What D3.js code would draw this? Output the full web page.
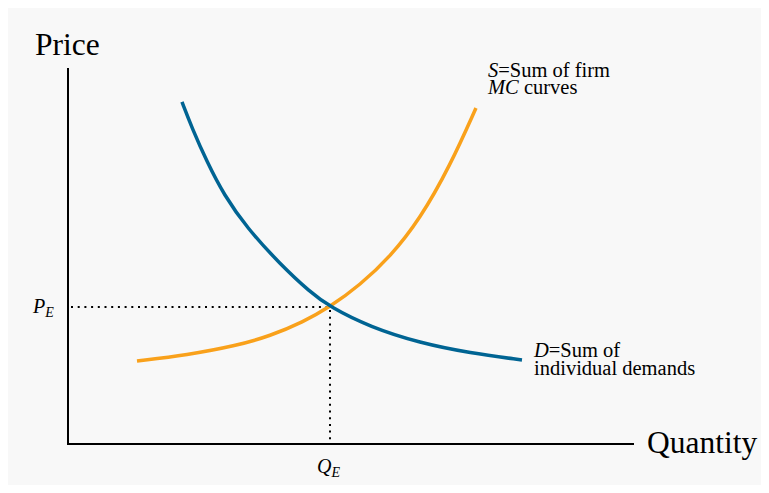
<!DOCTYPE html>
<html><head><meta charset="utf-8">
<script src="https://cdn.jsdelivr.net/npm/d3@7"></script>
<style>html,body{margin:0;padding:0;background:#fff;}svg{display:block;}</style>
</head><body>
<script>
// Data (x = quantity, y = price, arbitrary units 0-100)
const demandQ = [20.14, 21.91, 24.56, 27.56, 31.63, 37.46, 42.76, 46.29, 53.36, 62.19, 71.02, 80.21];
const demandP = [90.96, 84.04, 75.00, 66.22, 57.45, 47.87, 40.43, 36.44, 31.12, 26.86, 24.20, 22.34];
const supplyQ = [12.19, 21.02, 29.86, 35.69, 41.52, 46.29, 51.59, 56.89, 62.19, 67.49, 72.08];
const supplyP = [22.07, 23.67, 26.20, 28.72, 32.45, 36.44, 42.29, 49.73, 59.84, 73.94, 89.36];
const equilibriumQ = 46.29;
const equilibriumP = 36.44;

const W = 769, H = 493;
const svg = d3.select("body").append("svg").attr("width", W).attr("height", H);
svg.append("rect").attr("x", 8).attr("y", 8).attr("width", 753).attr("height", 477).attr("fill", "#f8f8f8");

const x = d3.scaleLinear().domain([0, 100]).range([68, 634]);
const y = d3.scaleLinear().domain([0, 100]).range([444, 68]);
const serif = "'Liberation Serif', 'Times New Roman', serif";

// dotted guides
svg.append("line").attr("x1", x(0) + 3).attr("x2", x(equilibriumQ)).attr("y1", y(equilibriumP)).attr("y2", y(equilibriumP))
  .attr("stroke", "#000").attr("stroke-width", 2).attr("stroke-dasharray", "2,4.7");
svg.append("line").attr("x1", x(equilibriumQ)).attr("x2", x(equilibriumQ)).attr("y1", y(equilibriumP) + 3).attr("y2", y(0))
  .attr("stroke", "#000").attr("stroke-width", 2).attr("stroke-dasharray", "2,4.7");

// axes
svg.append("line").attr("x1", x(0)).attr("x2", x(0)).attr("y1", y(0) + 1).attr("y2", y(100)).attr("stroke", "#000").attr("stroke-width", 2);
svg.append("line").attr("x1", x(0) - 1).attr("x2", x(100)).attr("y1", y(0)).attr("y2", y(0)).attr("stroke", "#000").attr("stroke-width", 2);

const line = d3.line().x(d => x(d[0])).y(d => y(d[1])).curve(d3.curveBasis);
const supply = supplyQ.map((q, i) => [q, supplyP[i]]);
const demand = demandQ.map((q, i) => [q, demandP[i]]);

svg.append("path").attr("d", line(supply)).attr("fill", "none").attr("stroke", "#f9a11b").attr("stroke-width", 3.5);
svg.append("path").attr("d", line(demand)).attr("fill", "none").attr("stroke", "#006493").attr("stroke-width", 3.5);

// axis titles
svg.append("text").attr("x", 35).attr("y", 55).attr("font-family", serif).attr("font-size", 31.5).attr("fill", "#000").text("Price");
svg.append("text").attr("x", 647).attr("y", 453).attr("font-family", serif).attr("font-size", 31.5).attr("fill", "#000").text("Quantity");

// P_E / Q_E
const pe = svg.append("text").attr("x", 33).attr("y", 313).attr("font-family", serif).attr("font-size", 20).attr("fill", "#000");
pe.append("tspan").attr("font-style", "italic").text("P");
pe.append("tspan").attr("font-style", "italic").attr("font-size", 14).attr("dy", 4).text("E");
const qe = svg.append("text").attr("x", 317).attr("y", 473).attr("font-family", serif).attr("font-size", 20).attr("fill", "#000");
qe.append("tspan").attr("font-style", "italic").text("Q");
qe.append("tspan").attr("font-style", "italic").attr("font-size", 14).attr("dy", 4).text("E");

// curve labels
const fs = 20.5;
const s1 = svg.append("text").attr("x", 488).attr("y", 77).attr("font-family", serif).attr("font-size", fs).attr("fill", "#000");
s1.append("tspan").attr("font-style", "italic").text("S");
s1.append("tspan").text("=Sum of firm");
const s2 = svg.append("text").attr("x", 488).attr("y", 94).attr("font-family", serif).attr("font-size", fs).attr("fill", "#000");
s2.append("tspan").attr("font-style", "italic").text("MC");
s2.append("tspan").text(" curves");

const d1 = svg.append("text").attr("x", 534).attr("y", 357).attr("font-family", serif).attr("font-size", fs).attr("fill", "#000");
d1.append("tspan").attr("font-style", "italic").text("D");
d1.append("tspan").text("=Sum of");
svg.append("text").attr("x", 534).attr("y", 375).attr("font-family", serif).attr("font-size", fs).attr("fill", "#000").text("individual demands");
</script>
</body></html>
